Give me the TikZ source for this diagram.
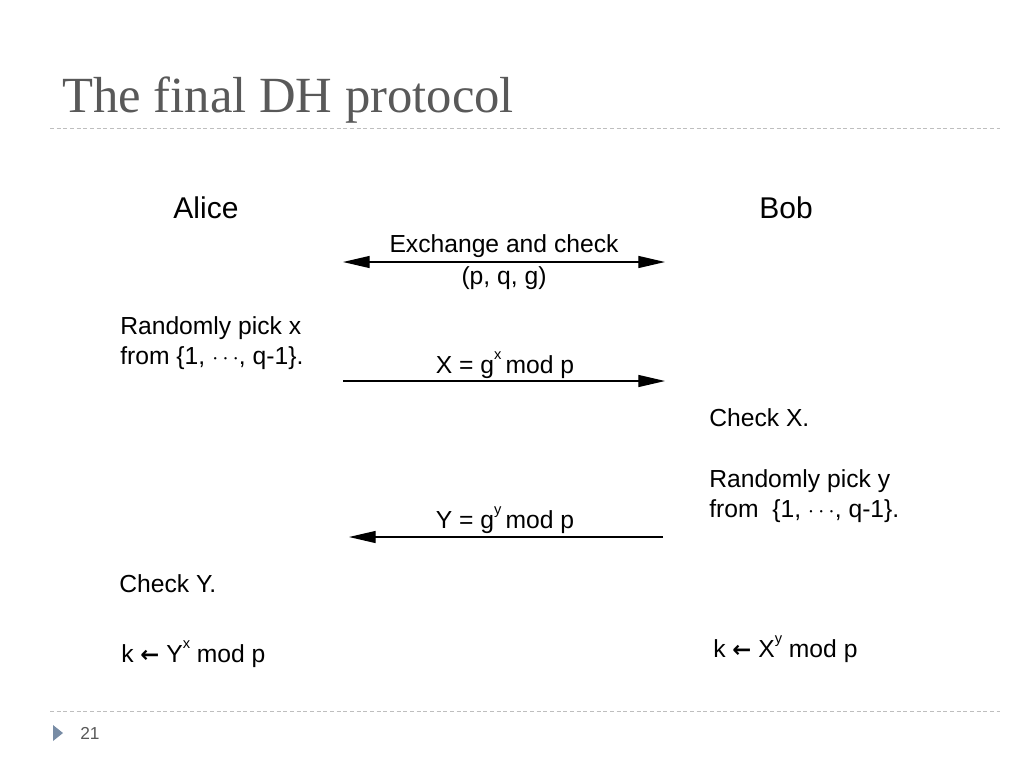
\documentclass[tikz,border=0pt]{standalone}
\usepackage{fontspec}
\setmainfont{Liberation Sans}
\newfontfamily\titlefont{Liberation Serif}
\newfontfamily\djv{DejaVu Sans}
\usetikzlibrary{arrows.meta}
\definecolor{titlegray}{RGB}{89,89,89}
\definecolor{dashgray}{RGB}{190,190,190}
\definecolor{bullet}{RGB}{120,140,165}
\tikzset{
  txt/.style={inner sep=0pt, font=\fontsize{18.5}{22}\selectfont},
  big/.style={inner sep=0pt, font=\fontsize{22.5}{26}\selectfont},
  sep/.style={dashgray, line width=0.6pt, dash pattern=on 3pt off 2pt},
}
\newcommand{\larr}{{\djv\fontsize{17}{17}\selectfont\bfseries ←}}
\newcommand{\myexp}[1]{\raisebox{0.55em}{\fontsize{11}{11}\selectfont #1}}
\begin{document}
\begin{tikzpicture}[x=0.75pt,y=-0.75pt]
\useasboundingbox (0,0) rectangle (1024,768);
\node[anchor=base west, inner sep=0pt, text=titlegray, font=\titlefont\fontsize{38}{40}\selectfont] (title) at (62,112) {The final DH protocol};
\coordinate (s1a) at (50,128); \coordinate (s1b) at (1000,128);
\draw[sep] (s1a) -- (s1b);
\coordinate (s2a) at (50,711); \coordinate (s2b) at (1000,711);
\draw[sep] (s2a) -- (s2b);
\fill[bullet] (53,725) -- (63,733) -- (53,741) -- cycle;
\node[anchor=west, inner sep=0pt, text=titlegray, font=\fontsize{13}{15}\selectfont] (pg) at (80,733) {21};

\node[big] (alice) at (206,208) {Alice};
\node[big] (bob) at (786,208) {Bob};

\coordinate (e1) at (343,262); \coordinate (e2) at (665,262);
\draw[line width=0.9pt, {Triangle[length=20pt,width=9pt]}-{Triangle[length=20pt,width=9pt]}] (e1) -- (e2);
\node[txt] (ex1) at (504,246) {Exchange and check};
\node[txt] (ex2) at (504,278) {(p, q, g)};

\node[txt, anchor=west, align=left] (rx) at (120,343) {Randomly pick x\\[1pt]from \{1, \(\cdots\), q-1\}.};

\coordinate (x1) at (343,381); \coordinate (x2) at (665,381);
\draw[line width=0.9pt, -{Triangle[length=20pt,width=9pt]}] (x1) -- (x2);
\node[txt] (xl) at (505,365) {X = g\myexp{x}\,mod p};

\node[txt, anchor=west] (cx) at (709,418) {Check X.};
\node[txt, anchor=west, align=left] (ry) at (709,496) {Randomly pick y\\[1pt]from~ \{1, \(\cdots\), q-1\}.};

\coordinate (y1) at (663,537); \coordinate (y2) at (349,537);
\draw[line width=0.9pt, -{Triangle[length=20pt,width=9pt]}] (y1) -- (y2);
\node[txt] (yl) at (505,520) {Y = g\myexp{y}\,mod p};

\node[txt, anchor=west] (cy) at (119,584) {Check Y.};
\node[txt, anchor=west] (ka) at (121,654) {k \larr{} Y\myexp{x} mod p};
\node[txt, anchor=west] (kb) at (713,649) {k \larr{} X\myexp{y} mod p};
\end{tikzpicture}
\end{document}
